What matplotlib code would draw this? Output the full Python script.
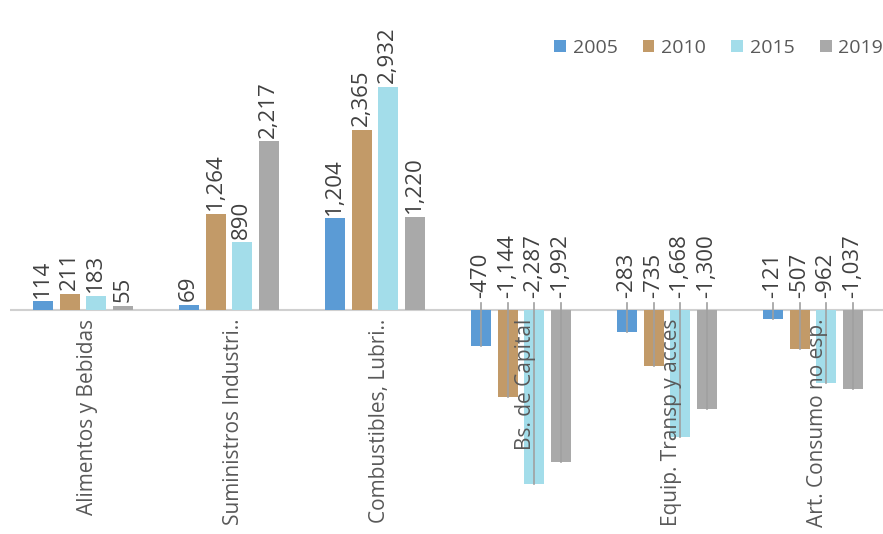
import matplotlib.pyplot as plt
import numpy as np
from matplotlib.patches import Patch

categorias = ["Alimentos y Bebidas", "Suministros Industri..", "Combustibles, Lubri..",
              "Bs. de Capital", "Equip. Transp y acces", "Art. Consumo no esp."]
anios = ["2005", "2010", "2015", "2019"]

v2005 = [114, 69, 1204, -470, -283, -121]
v2010 = [211, 1264, 2365, -1144, -735, -507]
v2015 = [183, 890, 2932, -2287, -1668, -962]
v2019 = [55, 2217, 1220, -1992, -1300, -1037]

series = [v2005, v2010, v2015, v2019]
colores = ["#5B9BD5", "#C29A68", "#A3DDEA", "#A9A9A9"]

plt.rcParams['font.family'] = ['Open Sans', 'DejaVu Sans']

fig = plt.figure(figsize=(8.83, 5.34), dpi=100)
ax = fig.add_axes([0.011, 0.0, 0.992, 1.0])

x = np.arange(len(categorias))
ancho = 0.137
offsets = [-0.274, -0.089, 0.089, 0.274]

for serie, col, off in zip(series, colores, offsets):
    ax.bar(x + off, serie, width=ancho, color=col, zorder=2)
    for xi, val in zip(x + off, serie):
        txt = f"{val:,}"
        if val >= 0:
            ax.text(xi, val + 50, txt, rotation=90, ha='center', va='bottom',
                    fontsize=16, color='#404040', zorder=4)
        else:
            ax.text(xi, 160, txt, rotation=90, ha='center', va='bottom',
                    fontsize=16, color='#404040', zorder=4)
            # linea guia desde la etiqueta hasta el final de la barra
            ax.plot([xi, xi], [90, val], color='#A0A0A0', lw=1.2, zorder=3)

# eje horizontal
ax.axhline(0, color='#D0D0D0', lw=1.5, zorder=1)

for xi, cat in zip(x, categorias):
    ax.text(xi + 0.03, -110, cat, rotation=90, ha='center', va='top',
            fontsize=15, color='#595959', zorder=5)

ax.set_xlim(-0.5, 5.5)
ax.set_ylim(-2945, 4076)
ax.axis('off')

handles = [Patch(facecolor=c, label=a) for c, a in zip(colores, anios)]
fig.legend(handles=handles, loc='center right', bbox_to_anchor=(1.02, 0.91),
           ncol=4, frameon=False, fontsize=14, handlelength=0.6, handleheight=0.6,
           handletextpad=0.35, columnspacing=1.3, labelcolor='#595959')

fig.savefig("out.png", dpi=100)
